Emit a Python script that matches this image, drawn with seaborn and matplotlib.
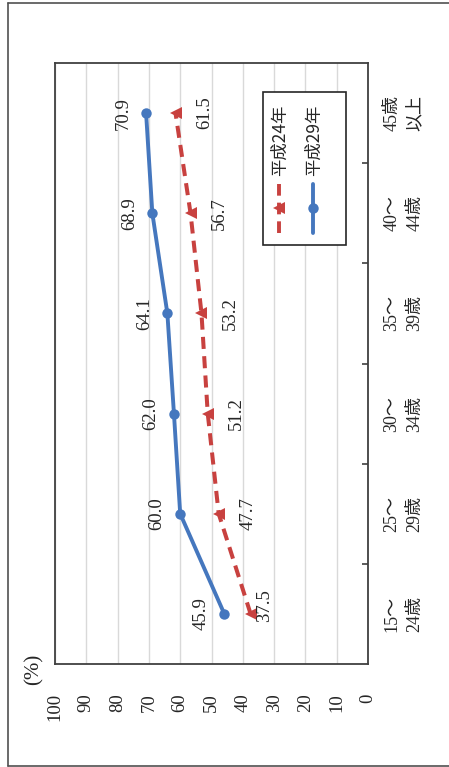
import matplotlib
matplotlib.use("Agg")
import matplotlib.pyplot as plt
from matplotlib.patches import Rectangle
from matplotlib.lines import Line2D
import seaborn as sns
import pandas as pd

# Employment rate by age group (%)
categories = ["15～\n24歳", "25～\n29歳", "30～\n34歳", "35～\n39歳", "40～\n44歳", "45歳\n以上"]
h24_values = [37.5, 47.7, 51.2, 53.2, 56.7, 61.5]
h29_values = [45.9, 60.0, 62.0, 64.1, 68.9, 70.9]
series_names = ["平成24年", "平成29年"]
value_ticks = [0, 10, 20, 30, 40, 50, 60, 70, 80, 90, 100]
unit_label = "(%)"

sns.set_style("white")
plt.rcParams["font.family"] = ["Liberation Serif", "Noto Sans CJK JP"]

RED = "#C8413F"
BLUE = "#4577BE"
TEXT = "#262626"
DASH = (0, (3.0, 1.8))

positions = list(range(len(categories)))
df24 = pd.DataFrame({"value": h24_values, "pos": positions})
df29 = pd.DataFrame({"value": h29_values, "pos": positions})

fig = plt.figure(figsize=(4.49, 7.67), dpi=100)
ax = fig.add_axes([55 / 449, 1 - 664 / 767, 313 / 449, 601 / 767])

# value axis runs right-to-left, categories bottom-to-top (chart laid on its side)
ax.set_xlim(100, 0)
ax.set_ylim(-0.5, len(categories) - 0.5)

ax.set_xticks(value_ticks)
ax.grid(axis="x", color="#D9D9D9", linewidth=1.0)
ax.grid(axis="y", visible=False)
ax.set_axisbelow(True)
for s in ax.spines.values():
    s.set_color("#404040")
    s.set_linewidth(1.3)

sns.lineplot(data=df24, x="value", y="pos", sort=False, estimator=None, ax=ax,
             color=RED, linewidth=2.9, linestyle=DASH,
             marker="<", markersize=9, markeredgewidth=0, zorder=3)
sns.lineplot(data=df29, x="value", y="pos", sort=False, estimator=None, ax=ax,
             color=BLUE, linewidth=2.8, marker="o", markersize=7.5,
             markeredgewidth=0, zorder=4)
ax.set_xlabel("")
ax.set_ylabel("")

# value tick labels below the plot, turned on their side
ax.tick_params(axis="x", length=0, pad=21, labelsize=13.5, labelcolor=TEXT)
for lbl in ax.get_xticklabels():
    lbl.set_rotation(90)
    lbl.set_va("top")
    lbl.set_ha("center")

# category boundaries as inward ticks on the right, labels centred in each band
ax.set_yticks([p + 0.5 for p in positions[:-1]])
ax.set_yticks(positions, minor=True)
ax.set_yticklabels([], minor=False)
ax.set_yticklabels(categories, minor=True)
ax.yaxis.tick_right()
ax.tick_params(axis="y", which="major", direction="in", length=4, width=1.2,
               color="#404040", left=False, right=True)
ax.tick_params(axis="y", which="minor", length=0, pad=11, labelsize=13,
               labelcolor=TEXT, left=False, right=True)
for lbl in ax.get_yticklabels(minor=True):
    lbl.set_rotation(90)
    lbl.set_va("center")
    lbl.set_ha("left")
    lbl.set_linespacing(1.45)
    lbl.set_multialignment("center")

# data labels
for v, p in zip(h29_values, positions):
    ax.annotate(f"{v:.1f}", (v, p), xytext=(-23, 0), textcoords="offset pixels",
                rotation=90, ha="center", va="center", fontsize=13.5, color=TEXT)
for v, p in zip(h24_values, positions):
    off = (14, 8) if p == 0 else (29, 0)
    ax.annotate(f"{v:.1f}", (v, p), xytext=off, textcoords="offset pixels",
                rotation=90, ha="center", va="center", fontsize=13.5, color=TEXT)

# legend box, drawn sideways to follow the chart
tx = ax.transAxes
ax.add_patch(Rectangle(((263 - 55) / 313, (664 - 245) / 601), 83 / 313, 153 / 601,
                       transform=tx, fill=True, facecolor="white",
                       edgecolor="#262626", linewidth=1.2, zorder=5))
leg_y0, leg_y1, leg_ym = (664 - 233) / 601, (664 - 184) / 601, (664 - 208) / 601
for xc, color, ls, mk, ms in [(279, RED, DASH, "<", 9),
                              (313, BLUE, "-", "o", 7.5)]:
    xa = (xc - 55) / 313
    ax.plot([xa, xa], [leg_y0, leg_y1], transform=tx, color=color, linewidth=2.8,
            linestyle=ls, zorder=6, clip_on=False)
    ax.plot([xa], [leg_ym], transform=tx, color=color, marker=mk, markersize=ms,
            markeredgewidth=0, zorder=7, clip_on=False)
for xc, name in [(280, series_names[0]), (314, series_names[1])]:
    ax.text((xc - 55) / 313, (664 - 176) / 601, name, transform=tx, rotation=90,
            ha="center", va="bottom", fontsize=12.5, color=TEXT,
            family=["Noto Sans CJK JP"], zorder=7)

# unit label
fig.text(34 / 449, 1 - 669 / 767, unit_label, rotation=90, ha="center", va="center",
         fontsize=15, color=TEXT)

# outer frame (open on the right edge)
fx0, fy0, fy1 = 7.5 / 449, 1 - 765.5 / 767, 1 - 2.5 / 767
for xs, ys in [([fx0, fx0], [fy0, fy1]), ([fx0, 1.0], [fy1, fy1]), ([fx0, 1.0], [fy0, fy0])]:
    fig.add_artist(Line2D(xs, ys, transform=fig.transFigure, color="#505050",
                          linewidth=1.2))

fig.savefig("out.png", dpi=100)
